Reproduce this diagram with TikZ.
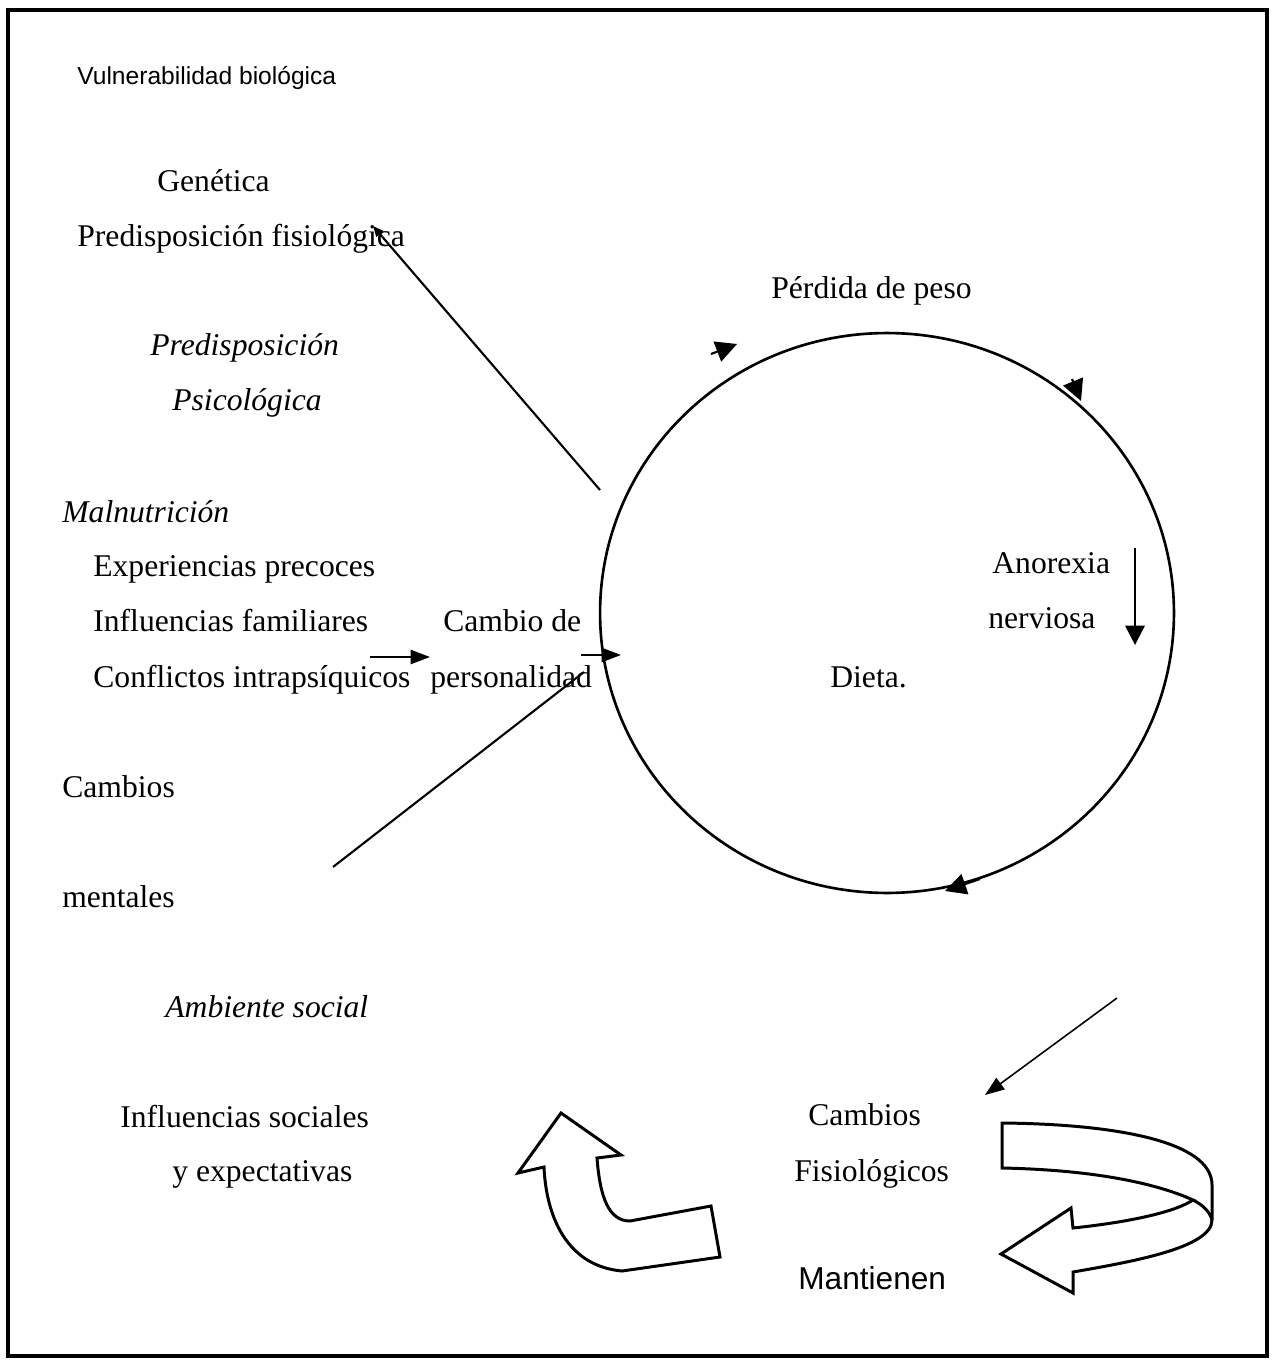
\documentclass[tikz,border=0pt]{standalone}
\usepackage{fontspec}
\setmainfont{Liberation Serif}
\setsansfont{Liberation Sans}
\usetikzlibrary{arrows.meta, shapes.geometric}

\begin{document}
\begin{tikzpicture}[x=0.02cm, y=-0.02cm,
    txt/.style={anchor=base west, inner sep=0pt, font=\fontsize{18}{22}\selectfont},
    itxt/.style={txt, font=\fontsize{18}{22}\selectfont\itshape},
    stxt/.style={txt, font=\fontsize{18}{22}\selectfont\sffamily},
    arw/.style={-{Triangle[length=11pt, width=8pt]}, line width=1.2pt},
    tiparw/.style={-{Triangle[length=11pt, width=11pt]}, line width=1.2pt},
    headarw/.style={-{Triangle[length=12pt, width=12pt]}, line width=1.2pt},
    smallarw/.style={-{Triangle[length=6pt, width=5pt]}, line width=1.2pt},
    blockarw/.style={draw, line width=1.7pt, line join=miter, fill=white},
]
\useasboundingbox (0,0) rectangle (1273,1364);
\draw[line width=1.8pt] (8,10) rectangle (1267,1356);

% left column
\node[txt, font=\fontsize{14}{17}\selectfont\sffamily] (vuln) at (77,85) {Vulnerabilidad biológica};
\node[txt] (genet) at (157,192) {Genética};
\node[txt] (predfis) at (77,247) {Predisposición fisiológica};
\node[itxt] (predpsi) at (150,356) {Predisposición};
\node[itxt] (psico) at (172,411) {Psicológica};
\node[itxt] (malnut) at (62,522) {Malnutrición};
\node[txt] (experi) at (93,576) {Experiencias precoces};
\node[txt] (inffam) at (93,631) {Influencias familiares};
\node[txt] (conflic) at (93,687) {Conflictos intrapsíquicos};
\node[txt] (cambiode) at (443,631) {Cambio de};
\node[txt] (person) at (430,687) {personalidad};
\node[txt] (cambmen) at (62,797) {Cambios};
\node[txt] (mentales) at (62,907) {mentales};
\node[itxt] (ambsoc) at (165,1017) {Ambiente social};
\node[txt] (infsoc) at (120,1127) {Influencias sociales};
\node[txt] (expect) at (172,1181) {y expectativas};

% the cycle
\node[draw, ellipse, line width=1.5pt, minimum width=11.48cm, minimum height=11.2cm,
      inner sep=0pt] (ciclo) at (887,613) {};
\node[txt] (perdida) at (771,299) {Pérdida de peso};
\node[txt] (anorex) at (992,573) {Anorexia};
\node[txt] (nervio) at (988,628) {nerviosa};
\node[txt] (dieta) at (830,687) {Dieta.};
\node[txt] (cambfis) at (808,1125) {Cambios};
\node[txt] (fisiol) at (794,1181) {Fisiológicos};
\node[stxt] (mantien) at (798,1289) {Mantienen};

% arrow heads on the cycle
\draw[headarw] (711,354) -- (737,344);
\draw[headarw] (1072,379) -- (1081,401);
\draw[headarw] (980,879) -- (945,891);

% connectors
\coordinate (gbot) at (600,490);
\coordinate (gtop) at (373,226);
\draw[smallarw] (gbot) -- (gtop);
\coordinate (confa) at (370,657);
\coordinate (confb) at (430,657);
\draw[arw] (confa) -- (confb);
\coordinate (persa) at (581,655);
\coordinate (persb) at (621,655);
\draw[arw] (persa) -- (persb);
\coordinate (menta) at (333,867);
\coordinate (mentb) at (584,672);
\draw[line width=1.2pt] (menta) -- (mentb);
\coordinate (anoa) at (1135,548);
\coordinate (anob) at (1135,645);
\draw[tiparw] (anoa) -- (anob);
\coordinate (fisa) at (1117,998);
\coordinate (fisb) at (985,1095);
\draw[arw, line width=0.9pt] (fisa) -- (fisb);

% block arrows
\draw[blockarw] (561,1113) -- (621,1155) -- (597,1158)
    .. controls (600,1198) and (609,1221) .. (630,1221) -- (711,1206) -- (720,1257)
    -- (622,1271) .. controls (566,1266) and (546,1215) .. (544,1167) -- (518,1173) -- cycle;
\draw[blockarw] (1002,1123) .. controls (1110,1124) and (1212,1140) .. (1212,1185)
    -- (1212,1220) .. controls (1212,1248) and (1130,1262) .. (1073,1272)
    -- (1073,1293) -- (1001,1254) -- (1071,1208) -- (1073,1228)
    .. controls (1130,1222) and (1175,1212) .. (1193,1200)
    .. controls (1160,1185) and (1100,1170) .. (1002,1168) -- cycle;
\draw[line width=1.7pt] (1193,1200) .. controls (1203,1205) and (1210,1212) .. (1212,1220);
\end{tikzpicture}
\end{document}
